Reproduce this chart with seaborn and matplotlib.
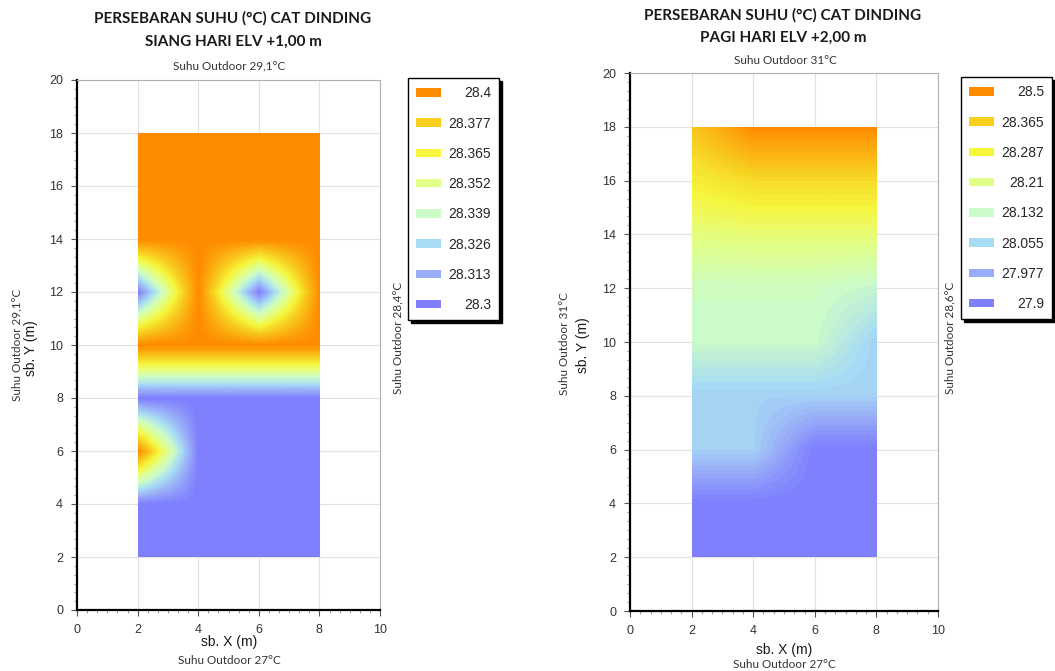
import numpy as np
import matplotlib
matplotlib.use("Agg")
import matplotlib.pyplot as plt
import seaborn as sns
from matplotlib.colors import LinearSegmentedColormap
from matplotlib.patches import Patch, Rectangle
from matplotlib.ticker import MultipleLocator, AutoMinorLocator

W, H = 1055, 671

# titik grid pengukuran (m)
x_nodes = [2, 4, 6, 8]
y_nodes = [2, 4, 6, 8, 10, 12, 14, 16, 18]

# suhu tiap titik, baris dari y=2 sampai y=18, kolom x=2..8
siang_temp = [
    [28.3, 28.3, 28.3, 28.3],
    [28.3, 28.3, 28.3, 28.3],
    [28.4, 28.3, 28.3, 28.3],
    [28.3, 28.3, 28.3, 28.3],
    [28.4, 28.4, 28.4, 28.4],
    [28.3, 28.4, 28.3, 28.4],
    [28.4, 28.4, 28.4, 28.4],
    [28.4, 28.4, 28.4, 28.4],
    [28.4, 28.4, 28.4, 28.4],
]
pagi_temp = [
    [27.9, 27.9, 27.9, 27.9],
    [27.9, 27.9, 27.9, 27.9],
    [28.04, 28.04, 27.9, 27.9],
    [28.04, 28.04, 28.04, 28.04],
    [28.13, 28.13, 28.13, 28.04],
    [28.14, 28.14, 28.14, 28.12],
    [28.22, 28.23, 28.23, 28.23],
    [28.30, 28.34, 28.34, 28.34],
    [28.38, 28.5, 28.5, 28.5],
]

siang_levels = [28.3, 28.313, 28.326, 28.339, 28.352, 28.365, 28.377, 28.4]
siang_labels = ["28.3", "28.313", "28.326", "28.339", "28.352", "28.365", "28.377", "28.4"]
pagi_levels = [27.9, 27.977, 28.055, 28.132, 28.21, 28.287, 28.365, 28.5]
pagi_labels = ["27.9", "27.977", "28.055", "28.132", "28.21", "28.287", "28.365", "28.5"]

level_colors = ["#8080ff", "#98acf8", "#a8dcf4", "#ccfcc8",
                "#e2ff88", "#f6f63c", "#f8d020", "#ff8c00"]

ARIAL = ["Liberation Sans", "DejaVu Sans"]
CALIBRI = ["Lato", "DejaVu Sans"]


def fx(px):
    return px / W


def fy(py):
    return 1 - py / H


def make_cmap(levels):
    lo, hi = levels[0], levels[-1]
    stops = [(v - lo) / (hi - lo) for v in levels]
    return LinearSegmentedColormap.from_list("suhu", list(zip(stops, level_colors)), N=48)


def right_align_legend(fig, leg):
    fig.canvas.draw()
    r = fig.canvas.get_renderer()
    texts = leg.get_texts()
    widths = [t.get_window_extent(r).width for t in texts]
    maxw = max(widths)
    for t, w in zip(texts, widths):
        t.set_position((maxw - w, 0))


def draw_panel(fig, box, temp, levels, labels, legend_px):
    l, t, r, b = box
    ax = fig.add_axes([fx(l), fy(b), (r - l) / W, (b - t) / H])

    z = np.array(temp)
    dx = (x_nodes[1] - x_nodes[0]) / 2
    dy = (y_nodes[1] - y_nodes[0]) / 2
    extent = (x_nodes[0] - dx, x_nodes[-1] + dx, y_nodes[0] - dy, y_nodes[-1] + dy)
    im = ax.imshow(z, origin="lower", extent=extent, cmap=make_cmap(levels),
                   vmin=levels[0], vmax=levels[-1], interpolation="bilinear",
                   interpolation_stage="data", aspect="auto", zorder=2)
    clip = Rectangle((x_nodes[0], y_nodes[0]), x_nodes[-1] - x_nodes[0],
                     y_nodes[-1] - y_nodes[0], transform=ax.transData)
    im.set_clip_path(clip)

    ax.set_xlim(0, 10)
    ax.set_ylim(0, 20)
    ax.xaxis.set_major_locator(MultipleLocator(2))
    ax.yaxis.set_major_locator(MultipleLocator(2))
    ax.xaxis.set_minor_locator(AutoMinorLocator(6))
    ax.yaxis.set_minor_locator(AutoMinorLocator(6))
    ax.grid(True, which="major", color="#e2e2e2", lw=0.8)
    ax.grid(False, which="minor")
    ax.tick_params(which="both", left=True, bottom=True, top=False, right=False)
    ax.tick_params(which="major", direction="out", length=4, width=0.8,
                   color="#555555", labelsize=9, labelcolor="#333333", pad=6)
    ax.tick_params(which="minor", direction="out", length=2.5, width=0.6, color="#888888")
    for lab in ax.get_xticklabels() + ax.get_yticklabels():
        lab.set_family(ARIAL)
    for side in ["left", "bottom"]:
        ax.spines[side].set_color("black")
        ax.spines[side].set_linewidth(1.6)
    for side in ["top", "right"]:
        ax.spines[side].set_color("#b0b0b0")
        ax.spines[side].set_linewidth(0.8)

    handles = [Patch(facecolor=c, edgecolor="none") for c in level_colors[::-1]]
    leg = ax.legend(handles, labels[::-1], loc="upper left",
                    bbox_to_anchor=(fx(legend_px[0]), fy(legend_px[1])),
                    bbox_transform=fig.transFigure, borderaxespad=0,
                    prop={"family": ARIAL, "size": 10}, handlelength=1.8,
                    handleheight=0.55, labelspacing=1.17, borderpad=0.6,
                    handletextpad=0.5, frameon=True, fancybox=False,
                    shadow={"color": "black", "alpha": 1})
    leg.get_frame().set_edgecolor("black")
    leg.get_frame().set_linewidth(1.0)
    leg.get_frame().set_alpha(1)
    return ax, leg


def main():
    sns.set_theme(style="whitegrid")
    plt.rcParams["font.family"] = ARIAL
    fig = plt.figure(figsize=(W / 100, H / 100), dpi=100)

    ax1, leg1 = draw_panel(fig, (77, 80, 380, 610), siang_temp, siang_levels,
                           siang_labels, (408, 78))
    ax2, leg2 = draw_panel(fig, (630, 73, 938, 611), pagi_temp, pagi_levels,
                           pagi_labels, (961, 77))

    title_kw = dict(ha="center", va="center", family=CALIBRI, fontsize=11,
                    fontweight="bold", color="#1a1a1a")
    small_kw = dict(ha="center", va="center", family=CALIBRI, fontsize=8.5, color="#333333")
    label_kw = dict(ha="center", va="center", family=ARIAL, fontsize=10, color="#1a1a1a")

    # panel kiri
    fig.text(fx(233), fy(18), "PERSEBARAN SUHU (°C) CAT DINDING", **title_kw)
    fig.text(fx(233), fy(42), "SIANG HARI ELV +1,00 m", **title_kw)
    fig.text(fx(229), fy(66), "Suhu Outdoor 29,1°C", **small_kw)
    fig.text(fx(229), fy(642), "sb. X (m)", **label_kw)
    fig.text(fx(229), fy(661), "Suhu Outdoor 27°C", **small_kw)
    fig.text(fx(31), fy(348), "sb. Y (m)", rotation=90, **label_kw)
    fig.text(fx(17), fy(345), "Suhu Outdoor 29,1°C", rotation=90, **small_kw)
    fig.text(fx(398), fy(338), "Suhu Outdoor 28,4°C", rotation=90, **small_kw)

    # panel kanan
    fig.text(fx(783), fy(15), "PERSEBARAN SUHU (°C) CAT DINDING", **title_kw)
    fig.text(fx(783), fy(38), "PAGI HARI ELV +2,00 m", **title_kw)
    fig.text(fx(785), fy(60), "Suhu Outdoor 31°C", **small_kw)
    fig.text(fx(784), fy(650), "sb. X (m)", **label_kw)
    fig.text(fx(784), fy(665), "Suhu Outdoor 27°C", **small_kw)
    fig.text(fx(583), fy(345), "sb. Y (m)", rotation=90, **label_kw)
    fig.text(fx(565), fy(344), "Suhu Outdoor 31°C", rotation=90, **small_kw)
    fig.text(fx(950), fy(338), "Suhu Outdoor 28,6°C", rotation=90, **small_kw)

    right_align_legend(fig, leg1)
    right_align_legend(fig, leg2)
    fig.savefig("out.png", dpi=100)


if __name__ == '__main__':
    main()
